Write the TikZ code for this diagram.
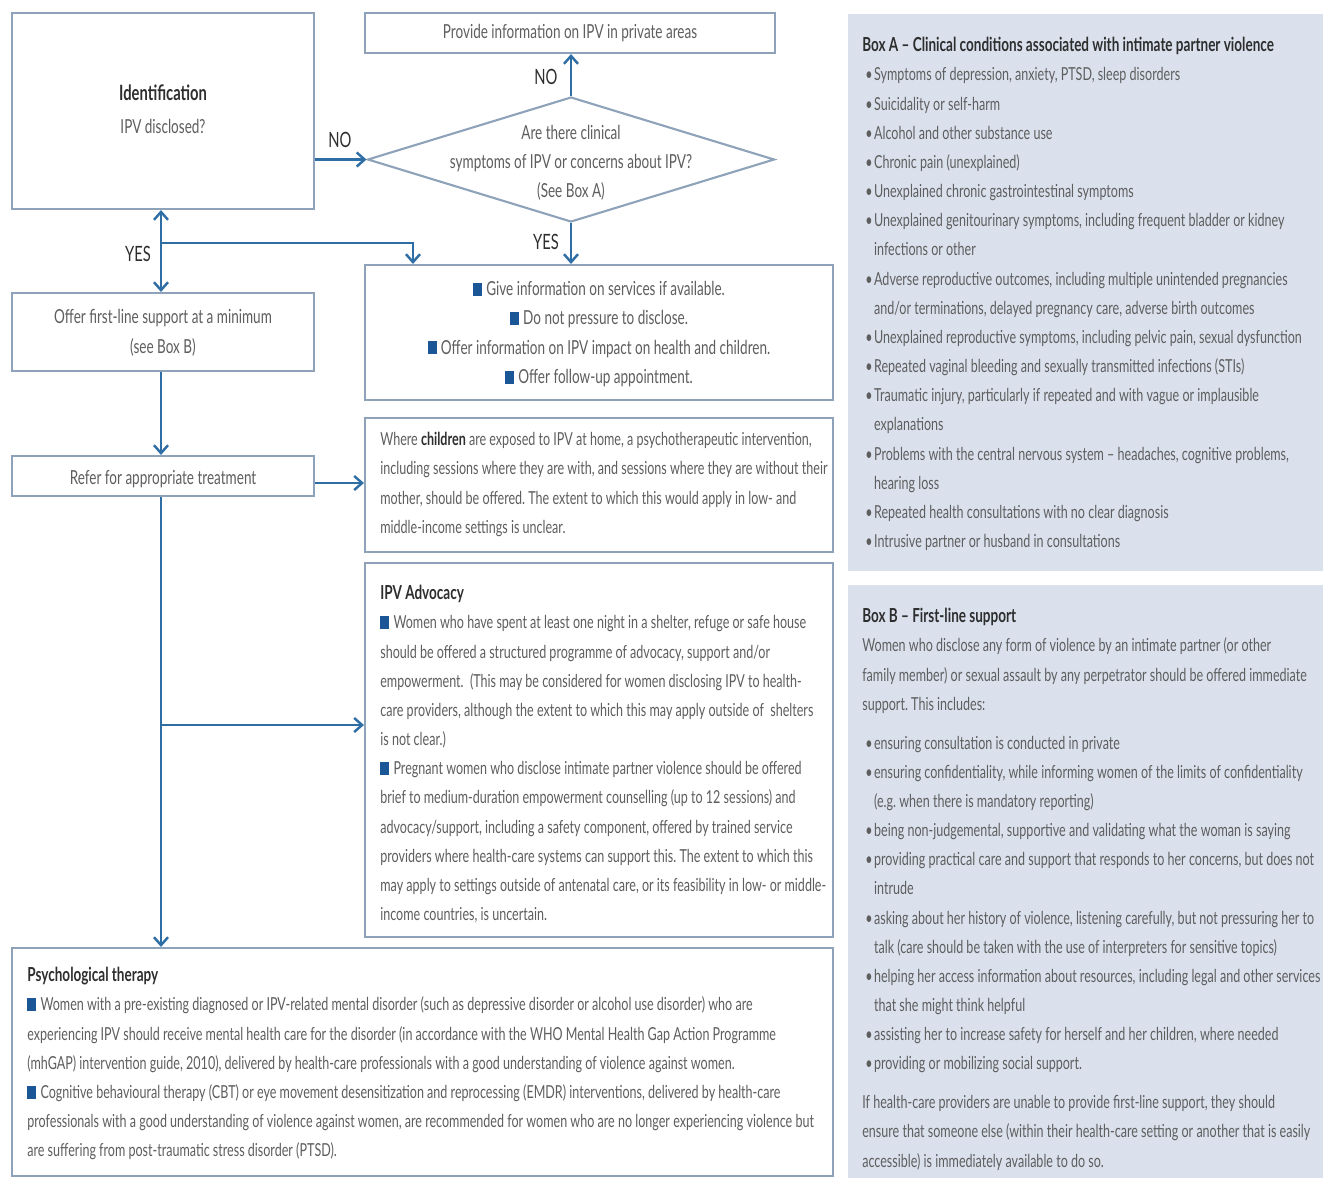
\documentclass[tikz,border=0pt]{standalone}
\usepackage{fontspec}
\setmainfont{Lato}[FakeStretch=0.70]
\usetikzlibrary{arrows.meta,shapes.geometric,fit}
\definecolor{boxline}{HTML}{8EA3B9}
\definecolor{arrowblue}{HTML}{2F6EA5}
\definecolor{txtgray}{HTML}{5E5E5E}
\definecolor{headgray}{HTML}{2E2E2E}
\definecolor{bulletblue}{HTML}{1B5797}
\definecolor{boxfill}{HTML}{DAE1ED}
\newcommand{\bl}{\hspace*{1.7pt}\makebox[5pt][l]{\textbullet}}
\newcommand{\ind}{\hspace*{6.7pt}}
\newcommand{\sqb}{{\color{bulletblue}\rule[-0.2pt]{5pt}{7.4pt}}\hspace{2.5pt}}
\newcommand{\hd}[1]{{\color{headgray}\bfseries\fontsize{11}{16.6}\selectfont #1}}
\frenchspacing
\begin{document}
\begin{tikzpicture}[x=0.02cm,y=-0.02cm,
  box/.style={draw=boxline, line width=1.2pt, inner sep=0pt},
  txt/.style={text=txtgray, font=\fontsize{10.2}{16.6}\selectfont, inner sep=0pt},
  flowtxt/.style={text=txtgray, font=\fontsize{11}{17}\selectfont, inner sep=0pt, align=center},
  para/.style={txt, anchor=north west, text width=20cm, align=flush left},
  panel/.style={fill=boxfill, draw=none, inner sep=0pt},
  arr/.style={draw=arrowblue, line width=1.4pt, -{Straight Barb[length=4.5pt,width=8pt]}},
  arrboth/.style={draw=arrowblue, line width=1.4pt, {Straight Barb[length=4.5pt,width=8pt]}-{Straight Barb[length=4.5pt,width=8pt]}},
  lbl/.style={text=headgray, font=\fontsize{12}{14}\selectfont, inner sep=0pt}]
\useasboundingbox (0,0) rectangle (1323,1178);
\fill[white] (0,0) rectangle (1323,1178);

% side panels
\node[panel, fit={(848,14) (1323,571)}] (boxA) {};
\node[panel, fit={(848,585) (1323,1178)}] (boxB) {};

% flow boxes
\node[box, fit={(12,13) (314,209)}] (ident) {};
\node[text=headgray, font=\bfseries\fontsize{12}{15}\selectfont, inner sep=0pt] (identtitle) at (163,93) {Identification};
\node[flowtxt] (identq) at (163,126) {IPV disclosed?};
\node[box, fit={(365,13) (775,53)}] (provide) {};
\node[flowtxt] (providetext) at (570,33) {Provide information on IPV in private areas};
\node[diamond, draw=boxline, line width=1.2pt, inner sep=0pt, aspect=3.26,
      minimum width=8.14cm, minimum height=2.5cm] (dia) at (571,159.5) {};
\node[flowtxt, font=\fontsize{11}{16.6}\selectfont] (diatext) at (571,163)
  {Are there clinical\\ symptoms of IPV or concerns about IPV?\\ (See Box A)};
\node[box, fit={(365,265) (833,400)}] (give) {};
\node[box, fit={(12,293) (314,371)}] (offer) {};
\node[flowtxt] (offertext) at (163,333) {Offer first-line support at a minimum\\ (see Box B)};
\node[box, fit={(12,456) (314,496)}] (refer) {};
\node[flowtxt] (refertext) at (163,479) {Refer for appropriate treatment};
\node[box, fit={(365,418) (833,552)}] (children) {};
\node[box, fit={(365,563) (833,937)}] (adv) {};
\node[box, fit={(12,948) (833,1176)}] (psych) {};

% texts in boxes
\node[txt, font=\fontsize{11}{16.6}\selectfont, anchor=north, text width=9cm, align=flush center] (givetext) at (599,275)
  {\strut\sqb Give information on services if available.\\
   \sqb Do not pressure to disclose.\\
   \sqb Offer information on IPV impact on health and children.\\
   \sqb Offer follow-up appointment.};
\node[para] (childtext) at (380,425)
  {\strut Where {\color{headgray}\bfseries children} are exposed to IPV at home, a psychotherapeutic intervention,\\
   including sessions where they are with, and sessions where they are without their\\
   mother, should be offered. The extent to which this would apply in low- and\\
   middle-income settings is unclear.};
\node[para] (advtext) at (380,579)
  {\strut\hd{IPV Advocacy}\\
   \sqb Women who have spent at least one night in a shelter, refuge or safe house\\
   should be offered a structured programme of advocacy, support and/or\\
   empowerment.\ \ (This may be considered for women disclosing IPV to health-\\
   care providers, although the extent to which this may apply outside of\ \ shelters\\
   is not clear.)\\
   \sqb Pregnant women who disclose intimate partner violence should be offered\\
   brief to medium-duration empowerment counselling (up to 12 sessions) and\\
   advocacy/support, including a safety component, offered by trained service\\
   providers where health-care systems can support this. The extent to which this\\
   may apply to settings outside of antenatal care, or its feasibility in low- or middle-\\
   income countries, is uncertain.};
\node[para] (psychtext) at (27,961)
  {\strut\hd{Psychological therapy}\\
   \sqb Women with a pre-existing diagnosed or IPV-related mental disorder (such as depressive disorder or alcohol use disorder) who are\\
   experiencing IPV should receive mental health care for the disorder (in accordance with the WHO Mental Health Gap Action Programme\\
   (mhGAP) intervention guide, 2010), delivered by health-care professionals with a good understanding of violence against women.\\
   \sqb Cognitive behavioural therapy (CBT) or eye movement desensitization and reprocessing (EMDR) interventions, delivered by health-care\\
   professionals with a good understanding of violence against women, are recommended for women who are no longer experiencing violence but\\
   are suffering from post-traumatic stress disorder (PTSD).};
\node[para] (boxAtext) at (862,31)
  {\strut\hd{Box A – Clinical conditions associated with intimate partner violence}\\
   \bl Symptoms of depression, anxiety, PTSD, sleep disorders\\
   \bl Suicidality or self-harm\\
   \bl Alcohol and other substance use\\
   \bl Chronic pain (unexplained)\\
   \bl Unexplained chronic gastrointestinal symptoms\\
   \bl Unexplained genitourinary symptoms, including frequent bladder or kidney\\
   \ind infections or other\\
   \bl Adverse reproductive outcomes, including multiple unintended pregnancies\\
   \ind and/or terminations, delayed pregnancy care, adverse birth outcomes\\
   \bl Unexplained reproductive symptoms, including pelvic pain, sexual dysfunction\\
   \bl Repeated vaginal bleeding and sexually transmitted infections (STIs)\\
   \bl Traumatic injury, particularly if repeated and with vague or implausible\\
   \ind explanations\\
   \bl Problems with the central nervous system – headaches, cognitive problems,\\
   \ind hearing loss\\
   \bl Repeated health consultations with no clear diagnosis\\
   \bl Intrusive partner or husband in consultations};
\node[para] (boxBtext) at (862,602)
  {\strut\hd{Box B – First-line support}\\
   Women who disclose any form of violence by an intimate partner (or other\\
   family member) or sexual assault by any perpetrator should be offered immediate\\
   support. This includes:\\[5.5pt]
   \bl ensuring consultation is conducted in private\\
   \bl ensuring confidentiality, while informing women of the limits of confidentiality\\
   \ind (e.g. when there is mandatory reporting)\\
   \bl being non-judgemental, supportive and validating what the woman is saying\\
   \bl providing practical care and support that responds to her concerns, but does not\\
   \ind intrude\\
   \bl asking about her history of violence, listening carefully, but not pressuring her to\\
   \ind talk (care should be taken with the use of interpreters for sensitive topics)\\
   \bl helping her access information about resources, including legal and other services\\
   \ind that she might think helpful\\
   \bl assisting her to increase safety for herself and her children, where needed\\
   \bl providing or mobilizing social support.\\[5.5pt]
   If health-care providers are unable to provide first-line support, they should\\
   ensure that someone else (within their health-care setting or another that is easily\\
   accessible) is immediately available to do so.};

% connectors
\draw[arr] (ident.east |- dia.west) -- (dia.west);
\node[lbl] (no1) at (340,140) {NO};
\draw[arr] (dia.north) -- (dia.north |- provide.south);
\node[lbl] (no2) at (546,77) {NO};
\draw[arr] (dia.south) -- (dia.south |- give.north);
\node[lbl] (yes1) at (546,242) {YES};
\coordinate (s1) at (161,209);
\draw[arrboth] (ident.south -| s1) -- (offer.north -| s1);
\node[lbl] (yes2) at (138,254) {YES};
\coordinate (br1) at (161,243);
\coordinate (br2) at (413,243);
\draw[arr] (br1) -- (br2) -- (br2 |- give.north);
\draw[arr] (offer.south -| s1) -- (refer.north -| s1);
\draw[arr] (refer.east |- 0,483) -- (children.west |- 0,483);
\draw[arr] (refer.south -| s1) -- (psych.north -| s1);
\coordinate (br3) at (161,725);
\draw[arr] (br3) -- (br3 -| adv.west);
\end{tikzpicture}
\end{document}
